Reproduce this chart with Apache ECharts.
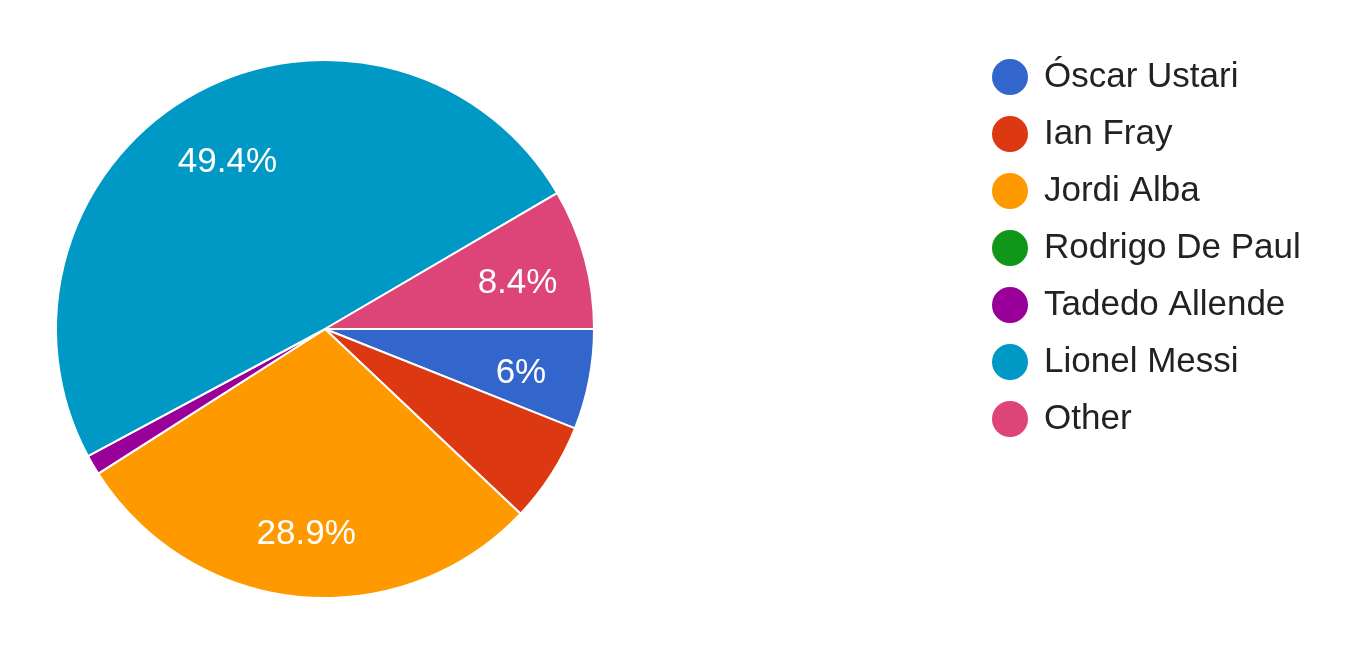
<!DOCTYPE html>
<html>
<head>
<meta charset="utf-8">
<script src="https://cdn.jsdelivr.net/npm/echarts@6/dist/echarts.min.js"></script>
<style>
  html, body { margin: 0; padding: 0; background: #fff; }
  #chart { width: 1360px; height: 648px; }
</style>
</head>
<body>
<div id="chart"></div>
<script>
const names = ['Óscar Ustari', 'Ian Fray', 'Jordi Alba', 'Rodrigo De Paul', 'Tadedo Allende', 'Lionel Messi', 'Other']
const counts = [5, 5, 24, 0, 1, 41, 7]
const colors = ['#3366cc', '#dc3912', '#ff9900', '#109618', '#990099', '#0099c6', '#dd4477']
// only these slices get a percent label in the reference
const showLabel = [true, false, true, false, false, true, true]

const total = counts.reduce((a, b) => a + b, 0)
const pct = v => {
  const p = Math.round(v / total * 1000) / 10
  return (p % 1 === 0 ? p.toFixed(0) : p.toFixed(1)) + '%'
}

const chart = echarts.init(document.getElementById('chart'))
const font = "'Liberation Sans', Arial, sans-serif"

const option = {
  animation: false,
  color: colors,
  legend: {
    orient: 'vertical',
    left: 985,
    top: 52,
    icon: 'circle',
    itemWidth: 58,
    itemHeight: 38,
    itemGap: 17,
    data: names,
    textStyle: { fontSize: 35, lineHeight: 38, color: '#222', fontFamily: font }
  },
  series: [
    {
      type: 'pie',
      center: [325, 329],
      radius: [0, 269],
      startAngle: 0,
      clockwise: true,
      label: { show: false },
      labelLine: { show: false },
      itemStyle: { borderColor: '#fff', borderWidth: 2 },
      data: names.map((n, i) => ({ name: n, value: counts[i] }))
    },
    {
      // transparent ring, only used to place the percent labels further out
      type: 'pie',
      silent: true,
      legendHoverLink: false,
      center: [325, 329],
      radius: [124, 269],
      startAngle: 0,
      clockwise: true,
      itemStyle: { color: 'rgba(0,0,0,0)' },
      label: {
        position: 'inside',
        // spacer line on top nudges the text a bit lower
        formatter: p => '{g| }\n{t|' + pct(p.value) + '}',
        rich: {
          g: { lineHeight: 14, fontSize: 10 },
          t: { color: '#fff', fontSize: 35, lineHeight: 40, fontFamily: font }
        }
      },
      labelLine: { show: false },
      data: names.map((n, i) => ({ name: n + ' ', value: counts[i], label: { show: showLabel[i] } }))
    }
  ]
}
chart.setOption(option)
</script>
</body>
</html>
